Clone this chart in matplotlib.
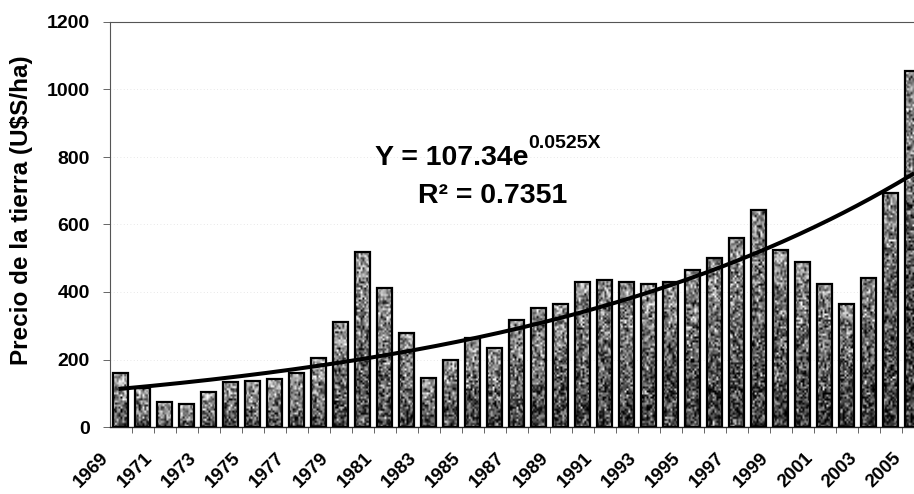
import numpy as np
import matplotlib.pyplot as plt
from matplotlib.transforms import ScaledTranslation

# land price per year (U$S/ha)
years = list(range(1969, 2006))
precio = [161, 115, 73, 68, 103, 133, 137, 142, 159, 205,
          312, 519, 411, 280, 144, 199, 263, 233, 317, 352,
          363, 431, 436, 431, 424, 431, 465, 502, 561, 643,
          524, 490, 424, 364, 442, 692, 1055]

# exponential trendline as reported on the chart
a_coef = 107.34
b_coef = 0.0525
r2 = 0.7351

yticks = [0, 200, 400, 600, 800, 1000, 1200]

plt.rcParams['font.family'] = ['Liberation Sans', 'DejaVu Sans']
plt.rcParams['font.weight'] = 'bold'

W, H = 914, 494
fig = plt.figure(figsize=(W / 100, H / 100), dpi=100)
ax = fig.add_axes([109.5 / W, 67 / H, 814 / W, 405 / H])

x = np.arange(len(years))
bars = ax.bar(x, precio, width=0.68, facecolor='none', edgecolor='black',
              linewidth=1.6, zorder=3)

# grainy grey fill inside each bar, a bit lighter towards the top
rng = np.random.default_rng(3)
n = len(years)
for i, rect in enumerate(bars):
    h = rect.get_height()
    rows = max(int(h * 0.3375 / 2), 2)
    grad = np.linspace(0.30, 0.66, rows)[:, None] * np.ones((1, 8))
    grad -= 0.12 * i / n
    tex = np.clip(grad + rng.normal(0, 0.26, grad.shape), 0, 1)
    ax.imshow(tex, cmap='gray', vmin=0, vmax=1, origin='lower', aspect='auto',
              interpolation='bilinear',
              extent=[rect.get_x(), rect.get_x() + rect.get_width(), 0, h],
              clip_path=rect, zorder=2)

# trendline
xt = np.linspace(1, n, 300)
ax.plot(xt - 1, a_coef * np.exp(b_coef * xt), color='black', lw=2.9, zorder=4)

t1 = ax.text(11.57, 776, 'Y = %.2fe' % a_coef, fontsize=20.5,
             fontweight='bold', va='baseline', ha='left', zorder=5)
ax.annotate('%.4fX' % b_coef, xy=(1.0, 0.74), xycoords=t1,
            fontsize=14, fontweight='bold', va='bottom', ha='left', zorder=5)
ax.text(13.52, 664, 'R² = %.4f' % r2, fontsize=20.5, fontweight='bold',
        va='baseline', ha='left', zorder=5)

ax.set_xlim(-0.5, n - 0.5)
ax.set_ylim(0, 1200)
ax.set_yticks(yticks)
ax.yaxis.grid(True, color='#e0e0e0', lw=0.6, ls=(0, (1, 3)), zorder=0)

ax.set_xticks(x[::2])
ax.set_xticklabels([str(y) for y in years[::2]], rotation=45, ha='right',
                   fontsize=13.5, fontweight='bold')
ax.set_xticks(x[:-1] + 0.5, minor=True)
ax.tick_params(axis='x', which='major', length=0, pad=16)
ax.tick_params(axis='x', which='minor', length=4, color='#666666', width=0.7)
ax.tick_params(axis='y', length=5, color='#666666', width=0.7, pad=9,
               labelsize=14)
for lab in ax.get_yticklabels():
    lab.set_fontweight('bold')
shift = ScaledTranslation(-8 / 100, 0, fig.dpi_scale_trans)
for lab in ax.get_xticklabels():
    lab.set_transform(lab.get_transform() + shift)

for side in ['left', 'top']:
    ax.spines[side].set_color('#555555')
    ax.spines[side].set_linestyle((0, (2, 1)))
    ax.spines[side].set_linewidth(0.8)
ax.spines['right'].set_visible(False)
ax.spines['bottom'].set_color('#222222')
ax.spines['bottom'].set_linewidth(1.0)

fig.text(22 / W, 1 - 210 / H, 'Precio de la tierra (U$S/ha)', rotation=90,
         fontsize=17.5, fontweight='bold', ha='center', va='center')

fig.savefig('out.png', dpi=100)
